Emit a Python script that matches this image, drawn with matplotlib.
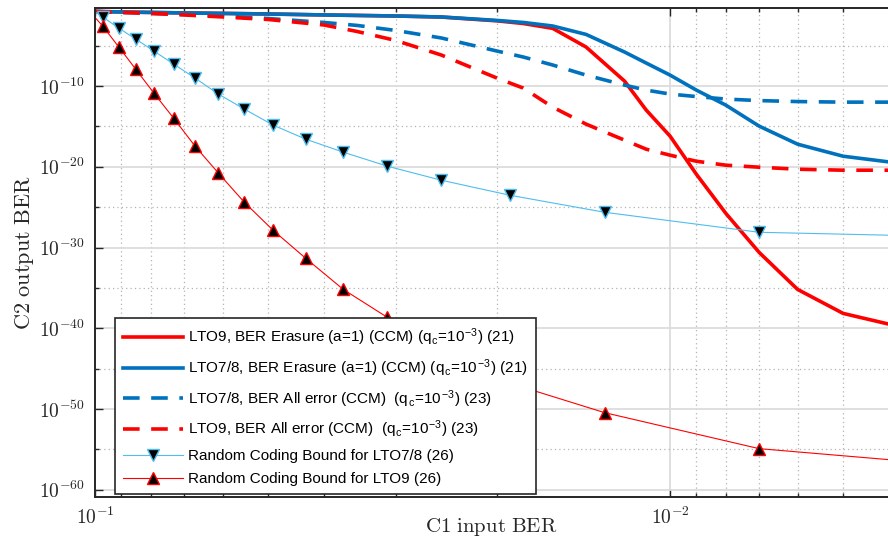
import numpy as np
import matplotlib
matplotlib.use('Agg')
import matplotlib.pyplot as plt
from matplotlib.ticker import FixedLocator, FuncFormatter, LogLocator, NullFormatter

plt.rcParams['mathtext.fontset'] = 'cm'
plt.rcParams['font.family'] = ['Liberation Sans', 'DejaVu Sans']

# C1 input BER sample points for the analytic curves
p_curve = [0.1, 0.09, 0.08, 0.07, 0.06, 0.05, 0.04, 0.035, 0.03, 0.025, 0.02,
           0.018, 0.016, 0.014, 0.012, 0.011, 0.01, 0.009, 0.008, 0.007,
           0.006, 0.005, 0.004]

# log10 of C2 output BER
lto9_erasure = [-0.76, -0.82, -0.88, -0.94, -1.00, -1.07, -1.19, -1.25, -1.32,
                -1.45, -1.92, -2.25, -2.85, -5.16, -9.38, -12.98, -16.20,
                -20.92, -25.76, -30.60, -35.19, -38.16, -39.78]
lto78_erasure = [-0.76, -0.82, -0.88, -0.94, -1.00, -1.07, -1.19, -1.25, -1.32,
                 -1.44, -1.87, -2.12, -2.56, -3.60, -5.78, -7.15, -8.64,
                 -10.50, -12.36, -14.96, -17.20, -18.69, -19.55]
lto78_allerr = [-0.76, -0.88, -1.00, -1.13, -1.32, -1.63, -2.12, -2.49, -3.11,
                -4.04, -5.66, -6.40, -7.39, -8.64, -9.88, -10.50, -10.99,
                -11.30, -11.61, -11.80, -11.92, -11.99, -11.99]
lto9_allerr = [-0.76, -0.88, -1.00, -1.19, -1.44, -1.75, -2.43, -3.24, -4.35,
               -6.15, -9.01, -10.25, -12.61, -14.71, -16.70, -17.82, -18.56,
               -19.31, -19.80, -20.05, -20.30, -20.42, -20.42]

# random coding bound points (markers on all but first and last)
p_rcb = [0.1, 0.097, 0.091, 0.085, 0.079, 0.073, 0.067, 0.061, 0.055, 0.049,
         0.043, 0.037, 0.031, 0.025, 0.019, 0.013, 0.007, 0.004]
rcb_lto78 = [-0.82, -1.44, -2.80, -4.17, -5.66, -7.27, -9.01, -10.99, -12.85,
             -14.84, -16.58, -18.19, -19.93, -21.66, -23.52, -25.63, -28.11,
             -28.50]
rcb_lto9 = [-1.5, -2.56, -5.12, -7.89, -10.87, -13.97, -17.44, -20.79, -24.39,
            -27.87, -31.34, -35.19, -38.66, -42.9, -46.8, -50.45, -54.91,
            -56.38]

red = '#ff0000'
blue = '#0072bd'
light_blue = '#4dbeee'
qc = r'(q$_\mathregular{c}$=10$^\mathregular{-3}$)'

fig = plt.figure(figsize=(8.88, 5.40), dpi=100)
ax = fig.add_axes([95 / 888, 1 - 497 / 540, 793 / 888, 489 / 540])

ax.plot(p_curve, 10.0 ** np.array(lto9_erasure), color=red, lw=2.6,
        label='LTO9, BER Erasure (a=1) (CCM) ' + qc + ' (21)')
ax.plot(p_curve, 10.0 ** np.array(lto78_erasure), color=blue, lw=2.6,
        label='LTO7/8, BER Erasure (a=1) (CCM) ' + qc + ' (21)')
ax.plot(p_curve, 10.0 ** np.array(lto78_allerr), color=blue, lw=2.6,
        dashes=(4.6, 3.2), label='LTO7/8, BER All error (CCM)  ' + qc + ' (23)')
ax.plot(p_curve, 10.0 ** np.array(lto9_allerr), color=red, lw=2.6,
        dashes=(4.6, 3.2), label='LTO9, BER All error (CCM)  ' + qc + ' (23)')
marks = list(range(1, 17))
ax.plot(p_rcb, 10.0 ** np.array(rcb_lto78), color=light_blue, lw=0.8,
        marker='v', ms=8.5, mfc='black', mec=light_blue, mew=1.0,
        markevery=marks, label='Random Coding Bound for LTO7/8 (26)')
ax.plot(p_rcb, 10.0 ** np.array(rcb_lto9), color=red, lw=0.8,
        marker='^', ms=8.5, mfc='black', mec=red, mew=1.0,
        markevery=marks, label='Random Coding Bound for LTO9 (26)')

ax.set_xscale('log')
ax.set_yscale('log')
ax.set_xlim(0.1, 10 ** -2.379)
ax.set_ylim(10 ** -60.9, 10 ** -0.33)

ax.yaxis.set_major_locator(FixedLocator([10.0 ** -k for k in range(10, 61, 10)]))
ax.yaxis.set_minor_locator(FixedLocator([10.0 ** -k for k in range(5, 60, 10)]))
ax.yaxis.set_minor_formatter(NullFormatter())
ax.xaxis.set_major_locator(LogLocator(base=10))
ax.xaxis.set_minor_locator(LogLocator(base=10, subs=np.arange(2, 10)))
ax.xaxis.set_minor_formatter(NullFormatter())
fmt = FuncFormatter(lambda v, pos: r'$10^{%d}$' % round(np.log10(v)))
ax.xaxis.set_major_formatter(fmt)
ax.yaxis.set_major_formatter(fmt)

ax.grid(True, which='major', color='#dcdcdc', lw=1.3, ls='-')
ax.grid(True, which='minor', color='#b4b4b4', lw=0.9, ls=(0, (1, 2.5)))
ax.set_axisbelow(True)

ax.tick_params(which='both', direction='in', top=True, right=False,
               colors='#262626', labelsize=14, pad=7)
ax.tick_params(which='major', length=6, width=1)
ax.tick_params(which='minor', length=3, width=1)
for side in ['left', 'top', 'bottom']:
    ax.spines[side].set_color('#262626')
    ax.spines[side].set_linewidth(1.4)
ax.spines['right'].set_visible(False)

ax.set_xlabel(r'$\mathrm{C1\ input\ BER}$', fontsize=15, color='#262626')
ax.set_ylabel(r'$\mathrm{C2\ output\ BER}$', fontsize=16, color='#262626')
ax.xaxis.set_label_coords(0.5, -0.038)
ax.yaxis.set_label_coords(-0.075, 0.5)

leg = ax.legend(loc='upper left', bbox_to_anchor=(115 / 888, 1 - 318 / 540),
                bbox_transform=fig.transFigure, borderaxespad=0,
                fontsize=11, handlelength=3.9, handletextpad=0.33,
                labelspacing=0.58, borderpad=0.55, fancybox=False,
                framealpha=1, edgecolor='#262626')
leg.get_frame().set_linewidth(1.2)

fig.savefig('out.png', dpi=100)
